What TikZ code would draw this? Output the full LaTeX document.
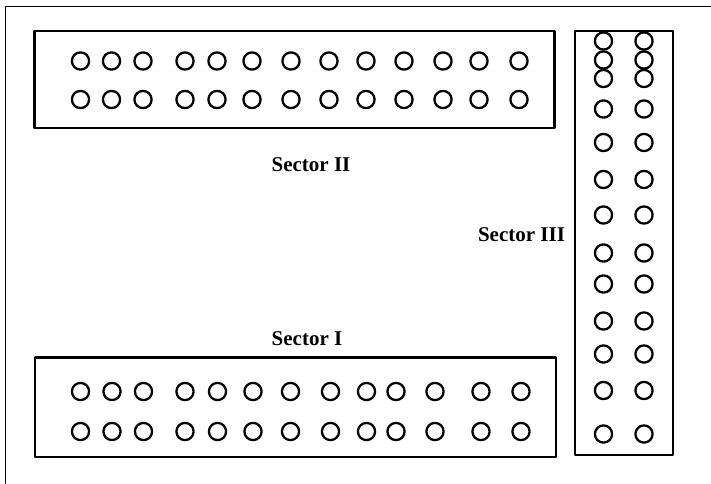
\documentclass[tikz,border=0pt]{standalone}
\usepackage{fontspec}
\setmainfont{Liberation Serif}
\begin{document}
\begin{tikzpicture}[x=1pt,y=-1pt,line cap=round,line join=round,
  hole/.style={line width=2.3pt},
  sectorbox/.style={line width=2.1pt},
  sectorlabel/.style={font=\fontsize{21}{24}\selectfont\bfseries,inner sep=0pt,anchor=base}]
\useasboundingbox (0,0) rectangle (711,483);
\draw[line width=1.9pt] (711,6.5) -- (5.5,6.5) -- (5.5,483);
% sector II (top)
\draw[sectorbox] (34.5,31) rectangle (554.5,128);
\foreach \x in {80.5,111.5,143,185,217,252,291,329,366,404,443,479,519}
  {\foreach \y in {61,99.5} {\draw[hole] (\x,\y) circle (8.6);}}
% sector I (bottom)
\draw[sectorbox] (35,357.5) rectangle (556,457);
\foreach \x in {80.5,112,143.5,185,217.5,253,290.5,330.5,366.5,396,435,481,521}
  {\foreach \y in {391.5,431.5} {\draw[hole] (\x,\y) circle (8.6);}}
% sector III (right)
\draw[sectorbox] (575,31) rectangle (673,455);
\foreach \y in {41,60,78.5,109,142.5,179.5,215,253,284,321,354,390.5,434}
  {\foreach \x in {603.5,644} {\draw[hole] (\x,\y) circle (8.6);}}
% labels
\node[sectorlabel] (secII) at (311,171.5) {Sector II};
\node[sectorlabel] (secIII) at (521.5,241.5) {Sector III};
\node[sectorlabel] (secI) at (307,345) {Sector I};
\end{tikzpicture}
\end{document}
